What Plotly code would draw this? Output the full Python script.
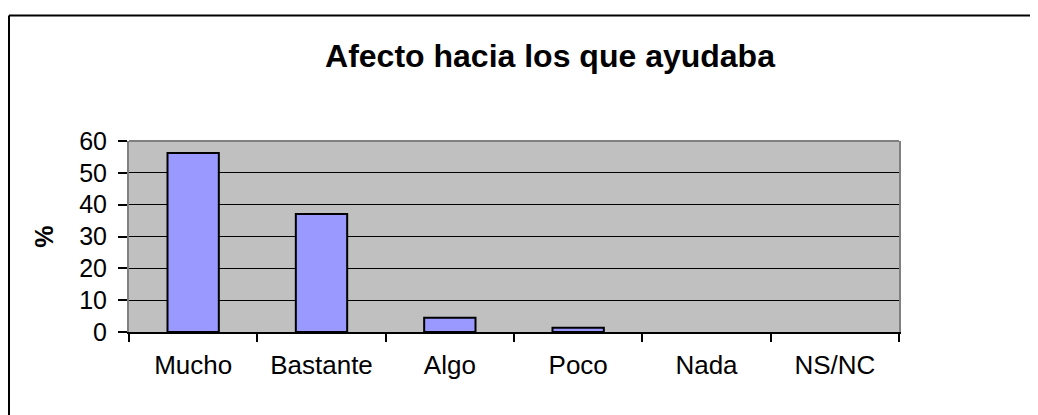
import plotly.graph_objects as go

categories = ["Mucho", "Bastante", "Algo", "Poco", "Nada", "NS/NC"]
values = [56.2, 37.1, 4.5, 1.3, 0, 0]
y_ticks = [0, 10, 20, 30, 40, 50, 60]

title_text = "Afecto hacia los que ayudaba"
y_title = "%"

# page body has an 8px margin; figure spans to the window edges
W, H = 1030, 407
L, R, T, B = 121, 139, 133, 83
FONT = "Liberation Sans, Arial, sans-serif"

outline_w = [2 if v > 0 else 0 for v in values]

fig = go.Figure()
fig.add_trace(go.Bar(
    x=categories, y=values, width=0.4,
    marker=dict(color="#9999FF", line=dict(color="black", width=outline_w)),
    hoverinfo="x+y",
))

pw = W - L - R
ph = H - T - B
def px2paper_x(px):
    return (px - L) / pw
def px2paper_y(py):
    return (H - B - py) / ph

fig.update_layout(
    width=W, height=H,
    margin=dict(l=L, r=R, t=T, b=B, pad=0),
    paper_bgcolor="white",
    plot_bgcolor="#C0C0C0",
    showlegend=False,
    font=dict(family=FONT, size=25, color="black"),
    title=dict(text="<b>" + title_text + "</b>", font=dict(size=32, family=FONT),
               x=542 / W, xanchor="center", xref="container",
               y=1 - 47.5 / H, yanchor="middle", yref="container"),
    xaxis=dict(
        type="category", tickson="boundaries", ticks="outside", ticklen=8,
        tickcolor="black", tickwidth=1.5,
        showline=True, linecolor="black", linewidth=2, mirror=False,
        showgrid=False, tickfont=dict(size=26), range=[-0.5, 5.5],
        ticklabelstandoff=9,
    ),
    yaxis=dict(
        range=[0, 60], tickvals=y_ticks, ticks="outside", ticklen=9,
        tickcolor="black", tickwidth=1.5,
        showline=True, linecolor="#808080", linewidth=2, mirror=True,
        showgrid=True, gridcolor="black", gridwidth=1, zeroline=False,
        tickfont=dict(size=25), ticklabelstandoff=6,
        title=dict(text="<b>" + y_title + "</b>", font=dict(size=25), standoff=18),
    ),
    shapes=[
        dict(type="line", xref="paper", yref="paper", layer="above",
             x0=0, x1=1, y0=1, y1=1,
             line=dict(color="#808080", width=2)),
        dict(type="line", xref="paper", yref="paper",
             x0=px2paper_x(1), x1=px2paper_x(1040), y0=px2paper_y(7.5), y1=px2paper_y(7.5),
             line=dict(color="black", width=2)),
        dict(type="line", xref="paper", yref="paper",
             x0=px2paper_x(1), x1=px2paper_x(1), y0=px2paper_y(7.5), y1=px2paper_y(420),
             line=dict(color="black", width=2)),
    ],
)

fig.write_html("out.html")
